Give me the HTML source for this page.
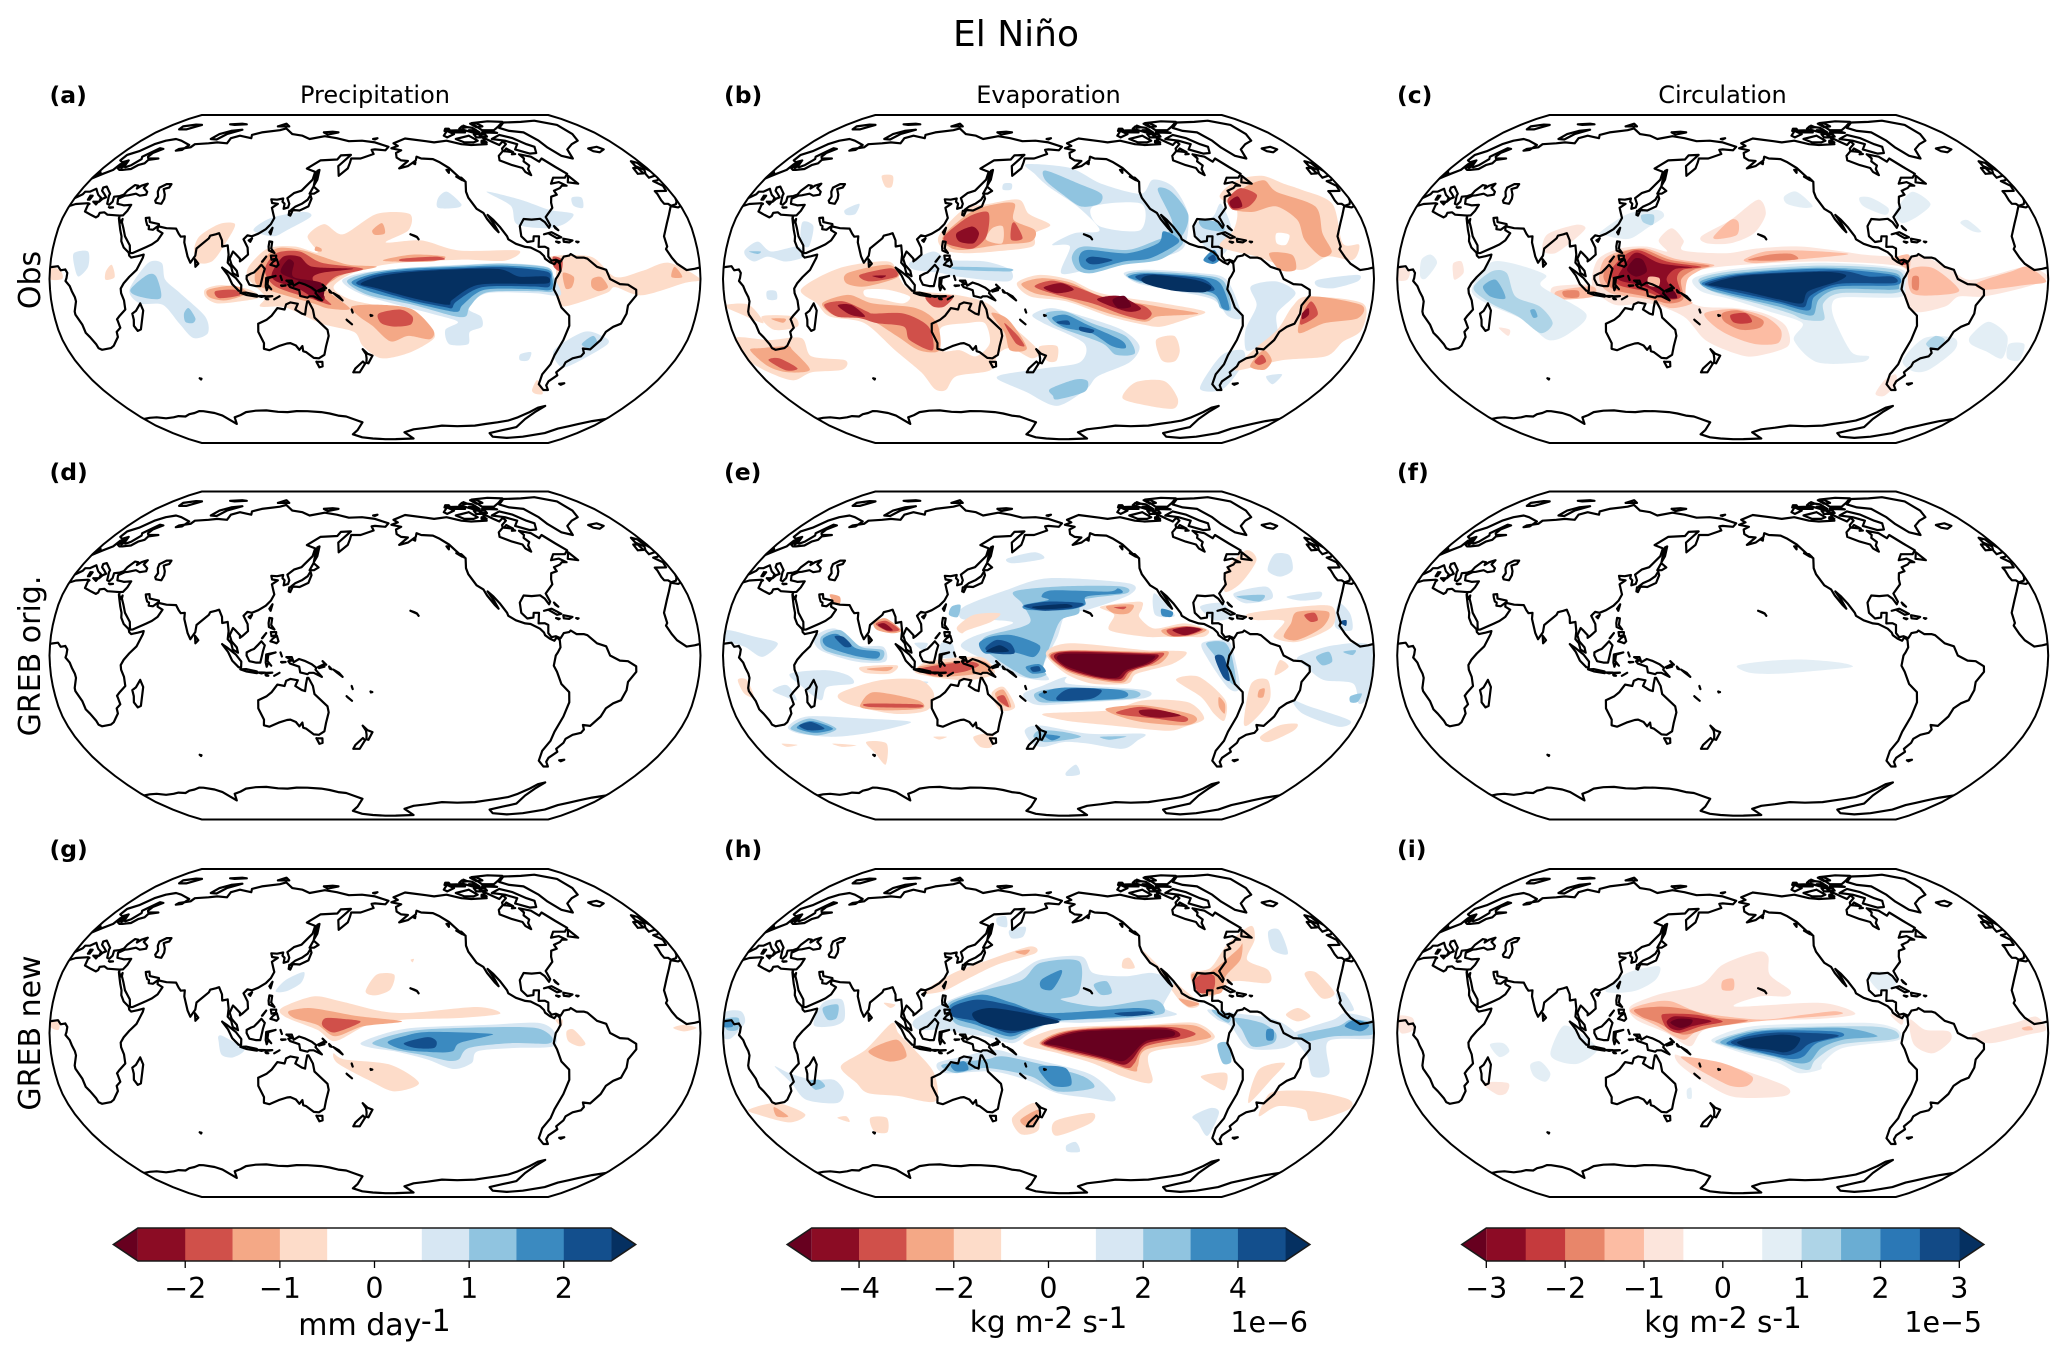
<!DOCTYPE html>
<html lang="en">
<head>
<meta charset="utf-8">
<title>El Niño</title>
<style>
html,body{margin:0;padding:0;background:#fff}
svg{display:block}
text{font-family:"DejaVu Sans","Liberation Sans",sans-serif;fill:#000}
</style>
</head>
<body>
<svg id="figure" xmlns="http://www.w3.org/2000/svg" width="2067" height="1359" viewBox="0 0 2067 1359">
<rect width="2067" height="1359" fill="#fff"/>
<defs id="clip-defs"></defs>
<g id="panels"></g>
<g id="colorbars"></g>
<text x="1016" y="46" font-size="36" text-anchor="middle">El Niño</text>
<text x="375" y="103" font-size="24" text-anchor="middle">Precipitation</text>
<text x="1048.5" y="103" font-size="24" text-anchor="middle">Evaporation</text>
<text x="1722.5" y="103" font-size="24" text-anchor="middle">Circulation</text>
<text x="49.5" y="103" font-size="23.5" font-weight="bold">(a)</text>
<text x="724" y="103" font-size="23.5" font-weight="bold">(b)</text>
<text x="1397" y="103" font-size="23.5" font-weight="bold">(c)</text>
<text x="49.5" y="480" font-size="23.5" font-weight="bold">(d)</text>
<text x="724" y="480" font-size="23.5" font-weight="bold">(e)</text>
<text x="1397" y="480" font-size="23.5" font-weight="bold">(f)</text>
<text x="49.5" y="857" font-size="23.5" font-weight="bold">(g)</text>
<text x="724" y="857" font-size="23.5" font-weight="bold">(h)</text>
<text x="1397" y="857" font-size="23.5" font-weight="bold">(i)</text>
<text transform="translate(40 280) rotate(-90)" font-size="30" text-anchor="middle">Obs</text>
<text transform="translate(40 656) rotate(-90)" font-size="30" text-anchor="middle">GREB orig.</text>
<text transform="translate(40 1033) rotate(-90)" font-size="30" text-anchor="middle">GREB new</text>
<text x="374.5" y="1335" font-size="30" text-anchor="middle">mm day<tspan dy="-4">-1</tspan></text>
<text x="1048.5" y="1332" font-size="29.5" text-anchor="middle">kg m<tspan dy="-4">-2</tspan><tspan dy="4"> s</tspan><tspan dy="-4">-1</tspan></text>
<text x="1308" y="1332" font-size="28.5" text-anchor="end">1e−6</text>
<text x="1723" y="1332" font-size="29.5" text-anchor="middle">kg m<tspan dy="-4">-2</tspan><tspan dy="4"> s</tspan><tspan dy="-4">-1</tspan></text>
<text x="1982" y="1332" font-size="28.5" text-anchor="end">1e−5</text>
</svg>
<script>
/* Robinson projection table */
const robinsonLen=[1,.9986,.9954,.99,.9822,.973,.96,.9427,.9216,.8962,.8679,.835,.7986,.7597,.7186,.6732,.6213,.5722,.5322];
const robinsonDepth=[0,.062,.124,.186,.248,.31,.372,.434,.4958,.5571,.6176,.6769,.7346,.7903,.8435,.8936,.9394,.9761,1];

/* Colour scales: value bounds and band colours */
const boundsPrecip=[-2.5,-2,-1.5,-1,-.5,0,.5,1,1.5,2,2.5];
const colorsPrecip=['#67001f','#8b0c24','#d0504a','#f4a886','#fddcc9','#ffffff','#ffffff','#d7e7f3','#90c4e0','#3b8ac0','#134f8d','#053061'];
const boundsEvap=[-5,-4,-3,-2,-1,0,1,2,3,4,5];
const colorsEvap=colorsPrecip;
const boundsCirc=[-3,-2.5,-2,-1.5,-1,-.5,0,.5,1,1.5,2,2.5,3];
const colorsCirc=['#67001f','#8c0b25','#c53a3d','#e8866a','#fcbca3','#fce5dc','#ffffff','#ffffff','#e3eef5','#aed4e7','#6aadd3','#2b78b6','#124a86','#053061'];
const ticksPrecip=[-2,-1,0,1,2];
const ticksEvap=[-4,-2,0,2,4];
const ticksCirc=[-3,-2,-1,0,1,2,3];

/* Coastlines: closed loops as lon,lat */
const coastlines=[
[-5.9,35.8,-9.8,31.5,-13,27.5,-17,21,-16.5,16,-17.5,14.7,-15,10.5,-12.5,7.5,-7.5,4.4,-3,5,1,5.9,4.3,6.3,6,4.3,8.5,4.7,9.7,3,9.4,.5,8.8,-1,11,-3.5,12,-6,13.4,-9,13.7,-11,12,-16,12,-17.5,14.5,-22.5,15,-26.5,16.5,-28.6,18.2,-32,18.4,-34,20,-34.8,25.7,-34,28,-32.8,30,-31,32.5,-28.5,32.8,-26,35.5,-24,35,-20.5,34.8,-19.8,36.8,-18,40.5,-15,40.5,-10.5,39.2,-7,39.2,-4.7,41,-2,44,1,48,4.5,51,10.5,51.2,12,48,11.2,44.5,10.5,43.2,11.5,42.7,13,39.5,15.5,37.5,18.6,37,21,35.5,24,33.5,28,32.5,29.9,32.3,31.2,30,31.3,25,31.6,22.5,32.8,20,32.5,20,31,19,30.3,15.5,31.5,11,33.2,10.5,36.5,11,37,10,37.3,3,36.9,-2,35.2],
[34.2,31.3,35.5,33.5,36,36.5,32,36.2,30.5,36.5,27.5,37,26.2,39.5,29,41,31,41.2,35,42,38,41,41.5,41.5,41,43,37.5,44.8,38,47,35,46,33.5,44.5,33,46,30.7,46.3,28.5,43.5,28,41.5,26.2,40.8,23,40.5,24,38,23,36.5,21.5,37,19.5,41,19.3,42,14,45.5,12.3,45,13,43.5,16,41.8,18.5,40.2,17,39.5,16,38,15.6,40,12.5,41.5,10.5,43,8.7,44.4,6,43,3.2,43,3,41.7,0,39.8,-.5,38.3,-2,36.8,-5.5,36,-6.5,37,-8.8,37,-9.3,38.7,-8.8,42,-9,43.3,-2,43.4,-1.2,46,-4.7,48.3,-1.5,48.7,1.5,50.5,4,52,8,54,8.3,57,10.7,57.5,10,54.8,12,54,14,54,19,54.5,21,56.5,24,57.5,24,59.3,30,60,23,60,21.3,61,21.5,63,25.5,65.3,22.3,65.7,17.2,61,18.8,59.7,16.5,56.5,14.2,55.4,12.8,55.7,11,59,8,58,5.2,59,5,62,10,64,14,68,19,70,25,71,31,70,41,67.5,40,64.7,36,64.3,37,65.2,44,66.2,44.5,68,54,68.5,60,69,68,68.5,67,71.5,72,73,78,72.2,83,71.5,81,73.5,87,75,100,76.5,104,77.7,113,74,122,73,129,71,140,72.7,150,71.5,160,69.7,170,70,180,69,190,66.5,187.5,64.5,180,65,177.5,64.7,179,62.5,170,60,163.5,60,163,57.7,162,54.8,156.7,51,155.5,56,158,58,163,62,156,61.7,154,59.5,142.5,59,135,54.7,141,53,140.5,49,135,43.5,130.8,42.3,127.5,39.8,129.3,37,129,35.2,126.5,34.5,126.5,37,125,38,125,39.6,121.5,39,118,39.2,119,37.4,122.5,37,119.5,35,121,32,122,30,120.5,27,118,24.5,114,22.3,110.5,21,108,21.5,106,19.5,108.8,15.5,109.3,12,106.5,9.7,105,8.7,105,10,102.5,12.2,100.8,13.5,99.3,10,100.5,7,103.5,4,104.2,1.4,101.3,2.9,100.3,6,98.3,8,98.5,12,97.5,16.5,94.5,16,94,19,91.8,22.5,90,22,87,21.3,86.5,20,80.3,15,80,11.5,77.5,8,75.8,11,73,18,72.7,21,70.5,20.8,69,22.3,67,24.8,61.5,25,57,25.8,56.5,27,51,28,50,30.2,48,30,48.7,28.5,50,26.5,51.2,26,51.5,24.5,54,24.2,56.3,26,56.7,24,59.8,22.5,57.8,19,55,17,52,15.7,45,12.8,43.5,12.7,42.7,16.5,39,21,37,25,35,28,34.8,29.5,34.3,27.8,32.7,29.9,32.3,31.2],
[47,45,50,46.8,53,46.8,53,45,51,44.5,50.2,44.2,52.8,41.5,53.8,39.5,53.5,37,50,37.5,49,38.5,49.5,40.5,47.5,43],
[-156.5,71.3,-166,68.5,-163,67,-168,65.6,-161,64.5,-165,63,-165,60.5,-162,59,-157.5,58.7,-164,54.8,-158,56,-152,59,-151,61,-148,60,-140,59.7,-136,58,-131,55,-128,52,-125,49,-123,48,-124.5,43,-124,40,-120.5,34.5,-117,32.5,-115.5,29.5,-112,25,-110,23,-112,27,-114.8,31.5,-112,29,-109,25.7,-105.5,21,-105,19.5,-101,17.3,-96,15.8,-93,15.5,-88,13.2,-86,11.3,-85.5,10,-83,8.3,-80.5,7.3,-79,9,-77.5,7.5,-77.3,4,-78.8,1.5,-80,0,-81,-5,-79,-8,-76,-14,-71,-18,-70,-23,-71.5,-30,-73.5,-37.5,-73.5,-42,-75.5,-47,-74,-52,-68.5,-55,-65.5,-55,-68.7,-52.6,-69,-50.5,-65.7,-47.5,-67.5,-46,-65,-43,-65,-41,-62,-39,-57.5,-38,-56.7,-36.4,-58.4,-34.2,-54,-34.6,-50,-30,-48.5,-26,-45,-23.5,-41,-22,-39,-17,-39,-13,-35,-8,-35.3,-5.3,-40,-2.8,-44.5,-2.5,-50,0,-52,4.5,-57,6,-62,10,-64,10.5,-68,10.5,-71,12.3,-72,11.5,-75,11,-77,8.5,-79.5,9.5,-82,9,-83.6,11,-83.2,15,-85,15.9,-88.5,15.8,-87.5,21,-90.5,21,-91,18.7,-94.5,18.2,-97.5,21,-97.5,26,-94.5,29.5,-90,29.2,-85,29.6,-82.7,28,-81,25.2,-80,26.5,-81.5,30.5,-76,35,-75.5,37.5,-74,40.5,-70,41.5,-70.5,43.5,-66,44.8,-64,46,-61,46,-64.5,47.8,-70,47,-66.5,50,-59,50,-55.7,52,-60,55.5,-64.7,60,-68,58.3,-71,61,-78,62.3,-76.8,60,-78.5,58.5,-76.7,56.3,-79,54.5,-79.5,51.3,-82,53,-82.3,55,-88,56.5,-94.5,59,-93,61.5,-88,64,-87,65.5,-81.5,68,-82,69.7,-87,67.5,-90,69,-95,72,-96,68,-108,67.5,-115,68,-125,70,-135,69,-141,69.7],
[-73,78,-62,82,-45,82.5,-30,83.5,-18,80,-20,74,-24,70,-32,68,-40,65,-43,60,-49,61.5,-53,66,-54,70,-58,75,-68,76],
[-80,73.5,-72,71.5,-66,68,-62,66.5,-65,63,-70,62.7,-78,65,-73,68,-80,70,-89,71],
[-105,73,-117,71,-112,69,-105,69,-101,70],
[-90,76.5,-80,76.5,-72,79,-62,82.5,-75,83,-92,81.5],
[-123,72,-116,74,-120,76,-125,73],
[-92,75,-80,74.7,-84,76],
[-116,75,-106,75,-108,76.5,-116,76.3],
[-100,75,-94,75,-96,78,-104,79,-108,77.5],
[-87,64,-81,63.5,-84,65.5],
[-92,78.5,-86,79,-88,81.5,-94,81],
[-104,78,-100,78.5,-102,79.5],
[-100,72,-96,72,-96,74,-100,74],
[-95,72.5,-91,72.5,-91,74,-95,74],
[-99,69,-95,69,-96,70,-98,70],
[-122,76,-117,76,-117,77.5,-120,77.5],
[-100,75.5,-97,75,-97,76.5,-101,76.5],
[-83,62.3,-80.5,62.5,-82,63],
[-128,50.5,-125,50,-123.5,48.5,-125,48.8],
[-133,54,-131.5,54,-132,52.5],
[-154,57.5,-152.5,58,-153,57],
[50,80.5,60,81,65,80.5,55,80],
[11,55.5,12.5,56,12,55],
[-78,26,-77,25,-76,24,-77.5,25],
[-67,18.4,-65.7,18.3,-66.3,18],
[-78.3,18.4,-76.3,18.1,-77,17.8],
[115,-8.3,119,-8.4,117,-8.8],
[119.2,-9.5,120.7,-10,119.5,-9.9],
[154.6,-5.4,156,-6.8,155,-6.5],
[178.5,71,182,71.5,180,70.8],
[-59,47.7,-53,47,-56,51],
[-84.5,22,-80,23,-75,20.5,-77.5,20,-82,22.5],
[-74,19.8,-69,19,-71,18,-74,18.3],
[-5.5,50,1,51.3,1.5,52.7,0,53.5,-2,56,-2,57.7,-5,58.6,-6,56,-3,54,-5,52],
[-10,52,-6,52.2,-6,55,-9,55],
[-24,65.5,-16,66.5,-13.5,65,-19,63.4,-22.7,64],
[12,79,20,80.3,26,80,20,77,14,77],
[52,71,57,70.7,60,74,68,76.8,60,76,54,74],
[95,79,105,79,100,81],
[138,75,145,75.5,150,75,142,73.7],
[142,46,143.5,49,143.5,54,142.3,53.5,142,49],
[140.3,42,142,45.5,145.5,43.4,143,42],
[131,34,136,33.7,140.8,35.7,142,39.5,141,41.3,139.8,39,136.7,37,133,35.5],
[130,33.5,131.8,33.5,131,31.2,130,31.5],
[120.2,23,121.7,25.2,121,22],
[109,19,110.8,20,110,18.3],
[120.5,16,120.7,18.5,122.3,18.3,122,15,124,12.8,120.8,14],
[122,7,123.5,8.5,125.5,9.7,126.5,7,125.5,6,124,6.5],
[122,11.5,125,11.5,125,10,122.5,9.5],
[117.3,8.5,119.5,11,117.5,8.5],
[109,1.5,111.5,2.7,113,3.2,115.5,5.5,117,7,119,5,118,2,117.5,0,116.5,-3.5,114,-3.5,110.5,-2.8,109,0],
[95.3,5.6,98,4,103,.5,106,-3,105.8,-5.8,104.5,-5.8,101,-2.5,98.7,1.7],
[105.3,-6.8,108.5,-6.7,114.5,-7.8,114.5,-8.7,108.5,-7.8],
[120,-5.5,119.5,-3.5,119.8,.5,125,1.5,121,.4,120.5,-2.7,122.5,-5,121,-3.5],
[124,-10,127,-8.5,125,-9.5],
[119,-8.5,123,-8.4,120,-8.8],
[127.7,1.5,128.5,-.5,127.9,1],
[128,-3.2,130.5,-3.2,128.5,-3.5],
[131,-.8,134,-.8,135,-3.3,138,-1.7,141,-2.6,145,-4.3,147.5,-6,147,-7,150.5,-10.5,146,-8.5,143.5,-8.5,142.5,-9.2,138.5,-8.3,138,-5.5,133,-4,132,-2.8,134,-2.5],
[148.5,-5.7,152,-4.2,152,-5.5,149,-6.2],
[151,-2.8,153,-4.5,151.5,-3.2],
[157,-7,160,-8.5,162,-10.5,159,-8.5],
[167,-15,167.5,-16.5,167.1,-15.5],
[164,-20,167,-22.3,164.5,-20.5],
[177.5,-17.7,178.5,-18,177.7,-18.2],
[-160,22,-158,21.4,-156.5,20.8,-155.5,19.5,-156.2,20.5,-158,21.2],
[69,-49,70,-49.2,69.5,-49.6],
[166.5,-46,170.5,-46,174,-41.7,172.7,-40.6,168,-44],
[172.8,-34.5,175.5,-36.7,178.5,-37.7,176,-41.5,174.8,-41.2,175,-39,174.7,-37],
[144.7,-40.7,148.3,-40.8,148,-43,146,-43.5],
[49.3,-12,50.4,-15.5,47,-24.8,45,-25.5,43.5,-23,44.2,-20,44,-17,46.3,-15.7],
[80,9.7,82,7.5,80.5,6],
[-61,-51.8,-58,-51.5,-59.5,-52.3],
[12.5,38,15.5,38,15,36.7],
[8.3,41,9.7,41,9.5,39,8.5,39],
[23.7,35.3,26.2,35.2,24.5,35],
[114,-22,113.5,-26,115.7,-31.5,115,-34.3,118,-35,124,-33,129,-31.7,131,-31.5,134,-32.7,135.7,-34.8,137.7,-33,137.8,-35.5,139.5,-36,143.5,-38.8,146.5,-39,150,-37.3,151.5,-33,153.5,-28,153,-25,149.5,-22,146,-19,145.3,-15,143,-11,142.3,-11,141.5,-14,140.8,-17.5,139,-17,135.5,-15,137,-12.2,133,-11.5,130.5,-12.5,129.5,-15,125.5,-14.3,122,-18,119,-20]
];
const antarcticaCoast=[0,-71,6,-70.3,12,-70,18,-70.6,25,-70,30,-69.3,35,-69.5,40,-68.2,45,-67.5,50,-66.4,53,-66.5,60,-67.5,64,-69,68,-74,72,-70,78,-68.7,84,-67,92,-66.2,100,-66,108,-66.8,115,-67,122,-66.4,130,-66.5,140,-67,146,-67.8,152,-69,158,-69.5,163,-71,170,-73,165,-78,160,-81,168,-83.5,178,-84.5,190,-85.2,200,-85,217,-84.5,206,-79.5,213,-77.5,224,-76.4,235,-75,248,-75.4,262,-75,270,-74,278,-73,285,-72,290,-70,295,-67,298,-64.5,302,-63.5,299,-67,297,-71,298,-76,290,-78,282,-80,290,-83,305,-84,318,-83,331,-80,335,-77,340,-75.5,345,-74,352,-72.3,360,-71];

/* Filled contours: [band value, lon,lat, lon,lat, ...], painted in order */
const contoursA=[
[-.75,110,6,120,15,135,16,148,13,142,21,151,27,162,22,181,32,200,32,199,24,186,18,206,19,227,14,260,14,252,9,227,9.5,189,7.5,168,3,157,-4,166,-10,184,-13.5,201,-17,211,-23,214,-29,201,-36,184,-39,173,-33,168,-26,150,-22,130,-14,116,-13.5,119,-8.6,110,0],
[-.75,86,-5,95,-3,110,-5,116,-9,105,-11,92,-12,86,-9],
[-.75,81,21,91,27,100,27,97,19,90,9,82,8,79,14],
[-.75,277,11,300,11,313,1,328,4,343,8,360,0,351,-2,328,-8,313,-4,308,-7,285,-13.5,281,-7,280,6],
[-.75,283,-50,287,-52,293,-57,288,-57,284,-55],
[-.75,31,3.7,34,7,36,1,31,-.4],
[-.75,0,6,6,4,7,0,0,0],
[-1.25,344,1,346,6,350,1],
[-1.25,284,3,290,1,289,-4,285.5,-4.5],
[-1.25,300,0,305,1,309,-4,304,-6,300,-4],
[-1.75,279,11,284,9.5,283,3.7,279,6],
[-1.25,115,6,125,15,140,14,150.5,11,165.5,7,181,6,165.5,3,158,0,153,-5,166,-14.5,154,-14.5,145.5,-12,123,-6,114,-2],
[-1.75,119,4.5,125,12.7,138,13.5,150.5,8,173.4,5,158,1,150.5,-7,155.6,-12.7,145.5,-10,125,-3.7],
[-2.25,123,3,129,11,138,11,145.5,6,168,5,150.5,3,145.5,0,152,-8.6,149,-11,138,-5,125,-1],
[-2.75,128,3,131.5,9.5,135,8,135,1,150.5,-2,150.5,-9.4,140.4,-2],
[-1.25,185,9.5,201,12,219,11,211.5,8.6,189,8.6],
[-1.75,195,10,214,11,218,9.5,196,8.6],
[-1.25,178.5,24,184,27.5,185.6,22.5,180,21.7],
[-1.25,147,16,150,15,150,13.5,146.5,14],
[-1.25,87.6,-5.3,102,-3.3,109,-7,97,-10.5,88,-9],
[-1.75,91.5,-6,102,-5.3,105,-8,93.5,-9.4],
[-1.25,167,-13.5,183.5,-12.7,201,-15,213,-25,211.5,-29.6,199,-28,189,-30.7,178.5,-23,171,-18.4],
[-1.75,182,-17,194,-15,201,-18.4,200,-22.5,191,-23.4,183.5,-21.7],
[.75,162,-.4,173,3,196,5.3,227,7,252,7.8,275,6.1,279,1,283,-8,268.6,-7,242,-7,232,-14.3,239.4,-18.4,240.7,-23.4,234,-26,234,-32,223,-32,220,-25,226.7,-21,211.5,-17,196,-13.5,176,-8.6,166,-4.5],
[1.25,164.5,-1.2,176,3,196,5.3,226.7,6.6,252,7.5,275,5.8,278.7,1.2,278.7,-6,268.6,-6,242,-6.6,233,-13.5,231,-18.4,223,-18,201,-12.7,176,-7.8],
[1.75,167,-1.7,178.5,2.5,196,4.8,226.7,6,252,6.6,275,4.8,278,.4,277.5,-5.3,267,-5,240.7,-5.3,229,-12.7,226.7,-16,220,-15.5,201,-11.6,178.5,-6.6],
[2.25,169.6,-2,180,2,197.5,4,226.7,5.3,252,5.8,275,3.7,277,-.4,276,-4,267,-3.7,239.4,-4,225.4,-11,223,-14.3,219,-13.8,201,-10.6,180,-5.3],
[2.75,172,-2.4,182,1.2,198.8,3.4,226.7,4.8,249.5,4.8,259.7,1.2,275,1.2,276,-2,264.8,-2.4,237,-2.9,223,-10.2,220.4,-12.7,201,-9.4,181,-4.5],
[.75,44,-5.3,54,7.8,61.7,7.8,64,-.4,72,-7,84.6,-18.4,84.6,-26.6,75.7,-29,69.3,-21.7,61.7,-12.7,49,-12],
[1.25,44.5,-5.3,54,2,59,1.2,61,-9.4,49,-8.6],
[1.25,73,-17,76,-14.3,79,-19.3,77,-21.7,73,-21],
[.75,12.2,12.7,20,13.5,21,6,16,1.2,13.5,6],
[.75,111,24,120,30,138,33,143,30.7,130,24,122.6,21],
[.75,218,40,224,43,231,37,228,35,217,35],
[.75,248,43,267,39,282,34,295,32,288,27,277,25,261,27,260,36],
[.75,298,40,304,40,302,35,297,36],
[.75,285,-35,299,-26,310,-28,315,-32,300,-42,293,-43],
[1.25,300,-32,305,-28,309,-32,305,-34],
[.75,266,-37,272,-36,272,-40,267,-40]
];
const contoursB=[
[-1.5,43,-5,64,5.3,91,8.6,97,1.2,104,-5.3,130,-8,146,-12,158,-22,174,-35,170,-39,158,-34,150,-37,144,-45,122,-48,112,-55,105,-54.5,101,-46,90,-35,76,-21.7,57,-18.4,51,-12],
[0,78.5,-5.3,91,-5.3,103,-8.6,99,-12,87,-10,78.5,-8.6],
[0,119,-24,134,-21.7,144,-21.7,146,-31.5,137,-38,128,-35,117,-35],
[-2.5,54,-12,69,-7.8,82,-12,106,-14.3,117,-21.7,116,-35,104,-35,93,-28,78,-19.3,61,-18.4],
[-2.5,69,3,91,7,97,1.2,78.5,-3.7,68,-2],
[-3.5,55,-12.7,66,-11,78.5,-16,82,-17,99,-17,112,-23.4,112,-35,100,-30,98,-23.4,83,-21.7,74,-19.3,61,-18.4],
[-4.5,62.5,-13,70,-12.7,77,-18.4,69,-17.6],
[-3.5,75.6,2,93,5.3,96,1.2,81,-1.2],
[-4.5,82.5,1.5,90,1.7,87.5,.4],
[-3.5,112,-8.6,127,-8.3,122,-13.5,115.6,-13.5],
[-2.5,148,-16.8,157.5,-20,167.4,-34,157.5,-35,155,-26.6],
[-3.5,155,-21.7,162.5,-28,166,-33,161,-31.5],
[-1.5,118,21,130,34,145,37,162.5,39,168.6,32,181,26.6,172.3,22.5,171,16,150,13.5,133,12.7,122,14.3],
[-2.5,120.5,21,135,33,150,37,160,37,160,29,172.3,24,170,18.4,152.6,16.8,133,14.3,125,15.5],
[-1.5,148,25,154,25.8,154,17.6,145,19.3],
[-3.5,121.7,21.7,134,30.7,145,32.7,145,21,137.8,15,128,16,122,18],
[-4.5,128,22.5,136.5,25.8,140.7,22.5,138,17.6,130,18.4],
[-3.5,159,26.6,161,27.5,165.4,20,159,19.3],
[-1.5,162.5,-2,175,2,192,-.4,209,-7,244,-12,267.4,-16,259,-19.3,244,-23.4,234,-22.5,214,-18.4,190,-11,170,-8.6],
[-2.5,165,-2.4,176,.4,192,-1.7,209,-8.3,241,-13.5,264,-17,241.5,-18.4,234,-21,214,-17,190,-10,172.3,-7],
[-3.5,172.3,-3.7,182,-.8,194.6,-3.7,212,-9.4,231.6,-12.7,237.8,-16.8,234,-20,221.7,-17.6,204.4,-12,184.7,-7.8],
[-4.5,177.3,-4.2,187,-2,194,-5.3,184.7,-7],
[-4.5,207,-10.2,219,-8.3,231.6,-14.3,224,-16],
[-5.5,215.6,-10.2,222,-8.3,226,-13.5,219,-14.3],
[1.5,165,57,194.4,55,213,47,236,42,246,49,257,45.5,261,32,256,16,244,11,224,7.8,202,4.5,187,2.9,192,16,182,16.8,194.6,22.5,209,24,197,35.7,180,45.5,171,52],
[0,206,35.6,235,37,232,24,209,26],
[2.5,178,53.7,199,47,212,42,210,37,199,35.7,188,42,178,48.8],
[2.5,247,44,255,43,261,31.6,255,21,244,19.3,251,27.5],
[2.5,193,11,199.5,16,224,14.3,241.5,19.3,252.6,22.5,255,17,241.5,9.4,221.7,7,204.4,2.9,196,4.4],
[3.5,197,11,202,14.3,224,12.7,241.5,17.6,245,23.4,251.4,21,252.6,17.6,236.5,10.2,221.7,8.6,204.4,4.5,198.3,6],
[4.5,200.7,9.4,204.4,11,215.6,9.4,208,7.4,203,7.4],
[1.5,221.7,2.9,234,4.5,263.7,2.9,278.5,-.4,288.4,-18.4,281,-18.4,271,-10,246.4,-5.3,229,-2],
[2.5,223,2,234,3.7,263.7,2,277,-1.2,282,-15,276,-14.3,271,-8.6,246.4,-3.7,230.4,-1.7],
[3.5,224,1.2,234,2.9,263.7,1.2,275,-2,281,-14.3,277,-14.3,271,-7,246.4,-2.9,231.6,-1.2],
[4.5,228,1.2,236.5,2.5,263.7,.4,271,-3.7,270,-6,249,-5.5,234,-2],
[5.5,231.6,.4,239,2,261,-.4,270,-3.7,266,-6.5,249,-5.7,234,-2.4],
[1.5,171,-17.6,182,-14.3,199.5,-18.4,221.7,-25,233,-33,229,-41,211,-48,205,-54.5,186,-63.5,165,-56,148,-49.6,152,-47,177,-44,199,-41,200.5,-31.5,177,-21.7],
[2.5,178.5,-16.8,189.6,-16,204.4,-21.7,224,-28,231,-36.5,220,-37.3,211,-31.5,189.6,-25,182,-21.7],
[3.5,182,-19.3,189.6,-17.6,202,-22.5,221.7,-30,225,-34,217,-33,204.4,-26.6,189.6,-24],
[4.5,184.7,-21,190.8,-20.4,192,-22.5,186,-22],
[4.5,198,-23.4,205.7,-25,204.4,-26.6,198,-25.4],
[2.5,181,-54.5,197,-49.6,205,-50.4,204,-56,186,-60,183,-58],
[1.5,103,8,115.6,13.5,125.4,9.4,145,8.6,158.8,4.5,157.5,-1.2,130,1.2,120,3,105.7,4.5],
[2.5,128,6,157.5,5.3,157.5,3.7,130,4.5],
[1.5,264,27.5,275,30.7,282,37,284,25.8,281,16,274,11,264.5,19.3,263,22.5],
[2.5,267,29,279,27.5,279,23.4,268,25],
[3.5,266,9.4,272.3,14.3,274.8,9.4,271,7.4],
[4.5,268.6,10.2,272,12,273,9.5,271,8.5],
[1.5,292,-3.7,306,-1.2,317,-7,308,-17,311,-28,303,-33,296,-35,292,-25,296,-13],
[1.5,280,-43,284,-36.5,294,-35,298,-41.5,295,-54.5,280,-54.5],
[1.5,329,-.4,351,2,351,-1.2,338,-4.5,329,-3.7],
[1.5,317,-48,326,-47,325,-52],
[1.5,10.6,14.3,16.8,18.4,25.4,13.5,40,16,44,11,34,8.6,24,11,16.8,8.6,11.8,11],
[2.5,13,13.5,19.5,13.5,18,12.3],
[1.5,39,28,46,26,46,16,41,18],
[1.5,61,34,68,37,68,32,63,31.5],
[1.5,152,47,157,47,157,44,152,44],
[1.5,24,-6,29,-6,29,-10,24,-10],
[-1.5,0,-12.7,13,-12.7,19,-21.7,7,-17,0,-14],
[-1.5,19,-18.4,36.5,-18.4,37.8,-23.4,24,-25],
[-2.5,24,-19.5,32,-19.5,30,-21.5],
[-1.5,0,-29,19,-30,38,-29,39,-38,58,-40,53,-44.7,33,-46,18,-50,8,-47,0,-40],
[-2.5,5,-35,12,-34,28,-33,30,-35,33,-44.7,18,-46,9,-43],
[-3.5,12,-40,19,-39,26,-44,18,-45],
[-1.5,73,51,80,51,83,45.5,79,45.5],
[-1.5,283,40.6,299,48.7,317,51,327,47,335,44,348,37,345,17.6,354,16.8,349,9.4,335,11,320.5,4.5,305.7,7.8,296,11,276,16,285,24,290,34],
[0,309,22.5,316,21.7,313,16.8,308,17.6],
[-2.5,288,37,300,44.7,316,48.7,319,43,337,35.7,335,22.5,338,13.5,331.6,11,324,19.3,323,29,314,35.7,299,33,288,34],
[-2.5,303,12.7,315.6,11.9,316.8,4.5,308,4.5],
[-3.5,287,39,298,44.7,306,41.4,298,35.7,288,34],
[-4.5,287.6,38,294,40.6,294,35.7,288,34.8],
[-1.5,316,-13.5,324,-8.6,355,-12,358,-25,350,-31,345,-38,320,-40,295,-45,300,-35,310,-25],
[-2.5,322,-17,325,-8.6,354,-12.7,354,-19.3,336,-21.7,323,-26.6],
[-3.5,322,-18.4,326,-11,331,-17.6,323,-22.5],
[-4.5,322,-17,325,-14.3,326,-17.6,323,-19.8],
[-2.5,303,-43,306,-35,314,-40,313,-44.7],
[-3.5,304,-40.6,306.5,-37.3,311,-40.6,308,-42.3],
[-1.5,231,-59.4,236,-51,254,-50.4,269,-59.4,271,-65,252,-63.5],
[-1.5,242,-30,252,-28,257,-35,256,-40.5,248,-40],
[-1.5,175,-33,185,-33,185,-40,180,-40.6,175,-36.5]
];
const contoursC=[
[-.75,110.5,9.4,122.5,15,137,16,149,13.5,144,19,151,25,158,19,158,14,182,12.7,199,15,223,16,247,13.5,258.5,12,275,11,292,11,306,4.5,316,-.4,330,2,349,6,360,1,349,-3.7,325,-8.6,311,-8.6,304,-13.5,287,-16,280,-3.7,279,6,235,8.6,191.7,7,168,4.5,158,-.4,158,-8.6,168,-13.5,187,-14.3,203.6,-17,215.6,-23,218,-33,199,-38,187,-36.5,170,-30,158,-18.4,139,-12,120,-12.7,108,-3.7],
[-.75,86.7,-3.7,108,-3,109,-8.6,91.5,-10,85.5,-8.6],
[-.75,81,22,96,26.6,102,25,96,19,86.7,12.7,79.5,14],
[-.75,168,21,184.5,29,201,39,205,32,197.7,22.5,184.5,17.6,171,17.6],
[-1.25,175,21,184.5,29,189,28,188,21.7,177.4,19.6],
[-.75,30.6,7.8,35,8.6,36.6,3,31.8,-.4,30.6,3.7],
[-.75,0,5.3,6.7,4.5,5.5,-.4,0,-.4],
[-.75,53,-24,59,-25,57,-28],
[-.75,283,-50,288,-47,292,-52,290,-58,283,-57],
[-1.25,114,9.4,122.5,13.5,137,15,153.5,10,175,7,168,4.5,160.7,0,159.5,-8.6,163,-12,151,-14.3,139,-10,118,-7,111.7,-.4],
[-1.75,117.7,9.4,125,13.5,135.6,14.7,151,9.4,172.6,6.6,164,4.5,157,-.4,158,-10,149,-12,137,-8.6,120,-5.3,114,1],
[-2.25,121,7.8,127,12.7,134,14,149,8.6,168,6,158,4.5,154.7,.4,157,-8.6,149,-10,137,-6,122.5,-3,117.7,3],
[-2.75,125,6,129.6,12,134,12.7,145,7.8,163,5.7,153.5,4.8,149,-.4,154.7,-8.6,149,-9.4,137,-3.7,122.5,-.4],
[-3.25,127,4.5,131,10,135.6,9.4,138,3.7,132,1.2],
[-3.25,145,-8,152,-5.3,154.7,-9.4,149,-9],
[-1.25,139,1,145,.4,144.4,-3.7,139,-3],
[-1.25,191.7,9.4,203.6,13.5,223,14,244,13,249,12,223,9.7,199,7.8],
[-1.75,194,9.4,206,12,218,12.4,221.5,9.7,206,9],
[-1.25,275,10,283.6,12,283.6,5.3,280,6],
[-2.25,278,9.4,283,7.8,280,7],
[-1.25,283.6,4.5,296.7,5.3,311,-5.3,301.5,-7.8,285,-7],
[-1.75,285,1,288.4,1,288.4,-5.3,285,-4.5],
[-1.25,320.6,-2,339.7,3.7,349,6,359,-1.2,346.8,-3,325,-5.3],
[-1.25,170,-16.8,187,-14.8,203.6,-18.4,213,-25,212,-31.5,199,-32,184.5,-28,175,-23],
[-1.75,179.8,-16.8,189,-15.5,202.4,-20,201,-24,190.5,-25,181,-21],
[-2.25,184.5,-17.6,193,-16.8,196.5,-21,190.5,-22,185.7,-21],
[-1.25,88,-6,108,-3.7,108,-8.6,90,-10],
[-1.75,91.5,-6,99.8,-5.7,99.8,-9,92.6,-9],
[.75,164,.4,187,5,235,8,278,5,281,-4,278,-9,247,-9,241,-12,243,-20,256,-36,267,-38,263,-41,237,-41,221,-30,225,-21.7,206,-16,184.5,-10,168,-6],
[1.25,167,0,187,4,235,6.6,276,4.5,280,-3.7,275,-7,245,-7,236,-12,237,-20,226,-20,218,-17,199,-12,174,-6],
[1.75,168,-1,188,3,235,5.6,275,3,277.6,-3.7,274,-5.3,244,-5,233.5,-10,231,-17.6,224,-17,211,-13.5,187,-8.6,172.6,-5.3],
[2.25,169,-1.7,189,2.5,235,5,274,2,276,-3,244,-3.7,231,-8.6,229,-15,223,-15,211,-12,189,-8,174,-4.5],
[2.75,170.7,-2,190.5,2,235,4,249,3.7,261,1.2,274,1.2,274.7,-2,244,-2.4,229,-8,226,-13.5,221.5,-13.5,211,-11,190.5,-7,175,-4],
[3.25,172.6,-2.4,191.7,1.6,235,3.5,248,2,244,-1,227.5,-6,224,-12,211,-10,191.7,-6,177.4,-3.7],
[.75,41,-5.3,50.8,7.8,62.8,7.8,82,2,79.8,-3.7,103.4,-17,92.6,-26.6,79.5,-30,67.6,-20,48.5,-12],
[1.25,42,-4.5,52,3.7,60.4,3,65,-8.6,78,-13.5,84,-21.7,76,-26.6,65,-18.4,51,-12],
[1.75,47.3,-3.7,54.5,-.4,59.4,-9.4,51,-8.6],
[1.75,72.4,-15.5,75,-15,76,-18.4,73.5,-19],
[.75,12.7,9.4,17.5,12,21.5,7.8,16,.4,12.7,1.2],
[.75,110.5,23,125,32,141.6,34,146,30.7,137,25,128.4,20,121,20,113,21.7],
[1.25,133,31.5,140,31.5,140,26.6,134.4,28],
[.75,217,40.6,225,43,233,36,227,35,218,37],
[.75,262,40,269,40,277,35,274,31.5,263,35.7],
[.75,279.4,31.5,285,37,296,43,303,37,293,31,283,27.5],
[.75,316,27.5,320.6,29,326.5,23.4,321.8,23.4],
[.75,288,-40,296,-29,313,-29,316,-35,307,-44.7,298,-45.5],
[1.25,298,-32,302,-28,308,-30,305,-35],
[.75,322,-28,330,-21,343,-28,347,-39,335,-35.6,324,-32],
[.75,346,-32,355,-32,358,-40,350,-39]
];
const contoursD=[];
const contoursE=[
[1.5,132,24,155,32,180,38,227,35.5,227,30,202,22.4,190,20.7,185,9.2,177,-5.6,180,-12,165,-10.5,145,-2.3,131.6,4.3,138,9.2,160,15.8,150,17.4,135,17.4,130,19],
[2.5,160,31.4,185,33.9,222,34,225,30.6,199.5,27.3,197,20.7,187,17.4,182,7.6,177,-5.6,178.5,-9.7,167.4,-10.5,145,2.6,145,9.2,165,14,170,17.4,165,25.6],
[3.5,176,29,182,32,214.3,31.4,220.5,33,222,30.6,202,29,200.7,24.8,190,22.4,168.6,22.4,166,24.8,180,27.3],
[3.5,141.5,6,147.7,9.2,160,10,175,5,172,-.7,163.7,1,157.5,1.8,145,1],
[4.5,166,24.4,180,26.5,199.5,25.7,194.6,23.2,177,22],
[4.5,145,3.5,151,7.6,158.8,6,161,1,150,1],
[5.5,171,24,189.6,25.3,193,23.7,177,22.7],
[5.5,146,2.5,153,5,158,2,147,1.5],
[3.5,167.4,-5.6,175,-4.3,178.5,-8,171,-8.9],
[4.5,170,-6,174.5,-5.3,175.5,-7.5,171.5,-8],
[1.5,50,9.2,61,13.3,73.6,5,88.4,4.3,89.6,-3,73.6,-3,53.8,2.6],
[2.5,53.8,9.2,64,12.5,76,4.3,88.4,2.6,87,-2.3,73.6,-1.5,56.3,2.6],
[3.5,55,8.4,62.7,10.5,73.6,3.5,86,1.8,84.7,-1.5,72.3,0,57.5,4.3],
[4.5,61.2,9.2,66,9.2,71,4.8,67,4.3],
[1.5,1,12.5,17,9.2,30,6,21.7,-.7,11.8,4.3,0,7.6],
[1.5,36.5,-9,56.3,-7.2,68.6,-9.7,71,-13.8,56.3,-15.5,51.4,-22,42,-15],
[1.5,25.4,-17,34,-14.6,37.8,-22,30,-19.6],
[1.5,102,-13,113,-13,105.7,-16.3],
[1.5,27,-35.2,41,-30,72,-31,100,-32.7,76,-37.7,51,-40,32,-38.5],
[2.5,28,-36,42,-31,55,-36,41,-39.3],
[3.5,32,-35.5,42,-32.2,53,-36,41,-38],
[4.5,34,-34.4,42,-32.7,48,-36,38,-36.8],
[1.5,265,6,278.5,7.6,282,2.6,287,-15.5,281,-16.3,268.6,-2.3],
[2.5,267.4,6,277,6.7,281,1,284.7,-13.8,280,-12,272.3,-.7],
[4.5,272,-.7,277,-.7,281,-12,277,-10.5],
[1.5,166,-18.7,177.3,-14.6,189.6,-10.5,192,-14,234,-17,234,-21,202,-23,177,-24.5,169,-22.8],
[2.5,172.3,-18.7,185,-16.3,226.7,-17,228,-21,187,-23,175,-22.8],
[3.5,175,-18.7,188.4,-15.8,220.5,-17,221.7,-21,184.7,-22.4,177,-21],
[4.5,184.7,-20.4,192,-16.3,209.4,-16.8,204.4,-21.2,187,-22.3],
[1.5,166,-36.8,175,-34.4,204.4,-38.5,236.5,-38.5,234,-41.8,226,-46,204.4,-43.4,189.6,-42.6,177,-45,170,-43.4],
[2.5,175,-36.8,189.6,-37.7,199.5,-40,187,-42,177,-42.6,171,-40],
[3.5,177,-38.8,187,-39.8,182,-41.8],
[2.5,211,-40,226.7,-39.8,217,-41.5],
[1.5,192,-58,198,-54,201.5,-59,193,-60],
[1.5,318,-.7,338,5,359,4.3,360,-18.7,356,-23.7,350,-13.8,333,-12,323,-5.6],
[1.5,318,-22,328,-25,355,-32,350,-35,326,-28.6],
[2.5,328,-.7,335,1.8,337,-3,331.6,-4.8],
[2.5,343,1.8,350,2.6,348,.2],
[2.5,350,-20,356,-18.7,355,-22.8,351,-23],
[1.5,345,25.7,350,20.7,349,12.5,340,14],
[4.5,343,16.6,347,17.4,346,14.5],
[1.5,324,50,333,49.5,328,42,318,38.8,313,42],
[1.5,287,30.6,307,33.9,308,28,292,25.7],
[2.5,288,29,304,29.8,300,26.5],
[1.5,317,29,337,31.4,335,28,324,27],
[1.5,266,24,279,25.7,283,19,273,17.4],
[1.5,154,47.8,171,51,177,47.8,158,45.4],
[1.5,241,30.6,250,21.5,250,19,240,20],
[3.5,244,23,250,21.5,249,19,244,19.5],
[2.5,125,24,130,24.8,129,19,124,20],
[1.5,120.5,6,126.6,6,128,-.7,120.5,-.7],
[1.5,105.7,6,113,6,110.6,2.6],
[-1.5,178.5,1,192,6,234,2.6,256,1.8,249,-4,229,-9,224,-13.8,204.4,-13.8,189.6,-8.9],
[-2.5,180,.2,192,2.6,234,1.8,246.4,1.8,241.5,-4,228,-7.2,221.7,-13.3,207,-12,190.8,-8],
[-3.5,181,-.3,192,2.3,234,1.3,244,1,237.8,-4,225.4,-8,220.5,-12.5,207,-11.3,190.8,-7.2],
[-4.5,183,-.5,192,1.8,234,.8,241,0,236,-4,224.5,-7.5,219.5,-11.7,207,-10.7,191,-6.6],
[-5.5,184.7,-.7,192,1,234,.2,239,-.7,234,-4,223,-7.2,218,-10.9,207,-10.2,192,-6,187,-3.6],
[-1.5,209.4,24,232,26.5,233,23.2,231,19,239,13.3,256,15.8,269,12.5,266,9.2,254,9.2,244,9.2,234,9.2,214,12.5,217,20],
[-2.5,213,24.3,228,25,225,20.7,217,20.7],
[-3.5,217,23.7,224,24,222,22.7],
[-2.5,243,12.5,256,14.5,268,12.8,261,10,248,9.2],
[-3.5,246,12.6,257,14.3,266,12.8,258,10,249,9.6],
[-4.5,249,12.5,257.5,14,265,12.8,256,10],
[-1.5,293,20.7,323,24,341,24,338,14,318,6.7,305,9.2,312,17,295,17.5],
[-2.5,315.6,15.8,320.5,21.5,338,21.5,333,14,318,7.6,310.6,9.2],
[-3.5,324,19.9,330,21,331,17.4,326.6,16.6],
[-2.5,82.2,15.8,88.4,18.3,98,12.5,93.3,10.9,84.7,12.5],
[-3.5,83.5,15.4,89,17,97,12.7,91,11.8],
[-4.5,84.7,15,88.4,15.8,93.3,12.5,89.6,12.5],
[-2.5,54,30,60,29,61.3,25.7,58,25.7],
[-1.5,105.7,-8,113,-3,135,-.7,145,-1.5,150,-8.9,135,-12.2,115.6,-10.5],
[-2.5,108,-5.6,135,-2.3,145,-3,147.7,-8,118,-10.5],
[-3.5,109,-6.4,134.4,-3,141.5,-4.8,133,-8,115.6,-9.7],
[-1.5,76,-5.6,96,-4.8,92,-8.9,78.5,-8.6],
[-2.5,80,-6.4,93.3,-5.6,90.6,-7.6,81.4,-7.2],
[-1.5,62.5,-18.7,86,-12.2,108,-12,115.6,-18.7,110.6,-27,91,-28.6,66,-23.7],
[-2.5,73.6,-23.7,82.2,-18,106,-22,108,-26,88,-27,74.6,-26],
[-3.5,77,-23.7,106,-24,106,-25.6,78.5,-25.3],
[-1.5,129,14,138,20,152.6,20.7,148,16.6,135,12.5,131.6,10.9],
[-1.5,148,-18.7,155,-15.5,161,-25.3,152.6,-27],
[-2.5,150,-18.7,155,-17,158.8,-25.3,152.6,-23.7],
[-3.5,151,-20.5,155,-19.7,157.5,-25.3,152.6,-22.7],
[-1.5,251,-12,263.7,-10.5,280,-22,282,-32,275,-28.6,266,-20.4],
[-2.5,276,-20.4,280,-23.7,281,-28.6,277,-25.3],
[-1.5,177,-28.6,214.3,-27,234,-22,259,-23,270,-31,260,-35,250,-37,217,-34.4,190,-32],
[-2.5,213,-26,234,-24.5,261,-28.6,266,-32,259,-34.4,234,-32.7,219,-29.4],
[-3.5,219,-27.8,234,-25.3,258.6,-30,258.6,-32.7,241.5,-31,224,-29.4],
[-4.5,232,-27,241.5,-26.6,256,-29.4,244,-30.6,234,-29.4],
[-1.5,293,-14,302,-12,305,-22,299,-32,294,-33.6],
[-2.5,298,-17,301,-16.3,301,-20.4,298,-20.4],
[-1.5,307,-40,315,-34.4,325,-33.6,325,-37,314,-42.6],
[-1.5,308,-2.3,313,-5.6,305.7,-9.7],
[-1.5,289,43,308,52,310,47,293,35.5,282,31.4],
[-1.5,69,-42.6,81,-43.4,73,-54,71,-48.4],
[-1.5,48,-43.4,62,-44.2,53,-45],
[-1.5,17,-43.4,26,-44,19,-45],
[-1.5,111,-40,119,-40,114,-41.4],
[-1.5,135,-40,146,-38.5,145,-45,138,-45],
[-1.5,7,-12,12,-12,14,-20.4,9,-18.7]
];
const contoursF=[
[.75,188,-5,205,-2.7,225,-2,245,-3.5,252,-5.5,238,-7,210,-9,195,-8.5]
];
const contoursG=[
[-.75,128,12.3,145.5,18,160.7,15.6,183.5,10.7,201,10,237,12.8,249.5,9.5,226.7,7.4,196,6.6,176,4,158,-4,148,1.6,130,8],
[-1.25,132,10.7,143,12.3,155.6,10.7,171,8.2,195,5.7,173.4,3.3,158,-1.6,148,4,135,7.4],
[-1.75,150.6,5,153,7.4,163,6.9,172,5.4,158,.3,152,2.5],
[-.75,157,-10,163,-13,188.6,-15.6,205,-24.6,191,-28.7,176,-23,159,-14.8],
[-.75,174.7,20.5,181,28.7,191,28.7,188.6,21.3,180,18.5],
[-.75,201,36,203,36.4,202,34.7],
[-.75,0,5.7,5,6.6,5,1.6,1,2.5],
[-.75,345,2.5,351,4,358,2.5,351,.8],
[-.75,286,.8,290,1.6,296.5,-5,293,-6.5,287,-4],
[-.75,280,6.5,284,6.5,283,3],
[.75,172,-5,183.5,-.8,201,2.5,242,4,270,5,279,.8,279,-6.5,257,-7.4,237,-9,234,-14.8,224,-17.7,209,-13,191,-9,178.5,-7.4],
[1.25,178.5,-5,188.6,-1.3,206,1.6,242,2.8,268.6,2.5,277.5,-1.6,276,-5.2,254.6,-5,232,-7.4,226.7,-13,220.4,-13.6,206,-10.7,188.6,-7.9],
[1.75,187,-4.6,196,-1.6,209,.5,243,-.3,242,-1.6,226.7,-5,223,-9,214,-9.5,196,-8.2],
[2.25,196,-5,209,-2,214,-4,212.7,-7.4,202.6,-7.4],
[.75,93.4,-1.6,96,-1.6,107.4,-8,101,-12,94.7,-10.7,93.4,-4],
[.75,124,20.5,129,26,139,30,138,24.6,130,20.5]
];
const contoursH=[
[-1.5,109,19.7,125.4,29.5,145,36,168.6,42.6,172.3,39.3,150,33.6,133,26.2,120.5,20.5],
[-2.5,160,40,168.6,41,166,38.5],
[-1.5,63.7,-16.4,78.5,-8.2,93.3,4.9,97,0,105.7,-8.2,115.6,-19.7,114,-33.6,93.3,-31,76,-29.5,71,-24.6],
[-2.5,80,-9,96,-3.3,101,-11.5,91,-14],
[-1.5,88,14.8,94.5,14,92,12.3],
[-1.5,224,36,228,36.9,230,32,223,32],
[-1.5,262,29.5,274,32,290,44,312,53,308,46,297,36,307,31,305,24.6,285,25.4,272,18,263,21.3],
[-2.5,262,28.7,273,30,294,41,299,44,293,36,281.5,27.9,277,19.7,265,19.7],
[-3.5,262.5,25.4,269.6,29.5,275,27.9,273,21.3,265,19.7],
[-1.5,235,42.6,251,26,264,14.8,259,12.3,253,16.4,244,29.5],
[-2.5,253,17,264,14.5,258,13],
[-1.5,311.8,9,319,12.3,325.4,8.2,318,5.7],
[-1.5,327,28.7,334,29.8,341,19.7,333,17.2],
[-1.5,307,-41,306,-32.8,310,-28.7,332,-28.7,355,-32.8,358,-37.7,341,-43.4,332,-37.7,315,-36],
[-1.5,297,-34.4,298,-18,312,-14.8,306,-23],
[-1.5,266,-21.3,280,-19.7,281,-27.9,275,-26.2],
[-1.5,2,-37.7,21,-34.4,34,-40,21,-44,5,-40],
[-2.5,18,-36.4,23,-41,16,-41],
[-1.5,158,-41.8,172,-34.4,174,-47.5,162.5,-50],
[-2.5,163,-42.6,174,-37.7,172,-44,166,-46],
[-1.5,184,-43.4,206,-39.3,206,-44.3,185,-50.8],
[-1.5,72,-41.8,82,-41.8,78,-49,70,-48.4],
[-1.5,52,-41.8,58,-41,58,-43.8],
[1.5,105.7,6.5,125.4,16.4,145,23,162.5,29.5,175,36,199.5,37.7,205.7,29.5,224,27.9,240,29.5,251,24.6,244,13,251,9,229,6.5,199.5,5,182,5,170,0,160,-5,145,-1.6,135,-.8,122,1.6,108,1.6],
[2.5,124.4,14.8,145,21.3,165,26.2,175,34.4,198,35.2,197,19.7,187,16.4,209.4,13,239,16.4,244,9.8,224,7.4,197,6.6,182,5.2,167.4,0,158.8,-3.3,140,1.6,128,5],
[2.5,205.7,23.8,213,25.4,215.6,19.7,209.4,18.9],
[3.5,125.4,14,142.6,18.9,160,14.8,180,9.8,229,12.3,239,9.8,224,8.2,194.6,6.6,182,5.7,167.4,.8,157.5,-1.6,140,4,128,7.4],
[3.5,176,26.2,187,31,187,27.9,182,21.3,176,22],
[4.5,126.6,13,140,16.4,157.5,13.9,177,9,187,6.6,182,5.5,167.4,1.6,157.5,0,140,5.7,126.6,8.2],
[4.5,216.8,9.8,234,10.7,237.8,9.5,224,8.2],
[5.5,137.8,9.8,147.7,12.3,167.4,9.8,186,5.7,177,3.8,165,1.3,155,1.6,141.5,5],
[-1.5,166,-5,182,1.6,202,3.3,234,4,261,5,272,-1.6,263.7,-5.7,236.5,-9.8,239,-23,235,-24.6,221.7,-21.3,204.4,-14.8,184.7,-9.8],
[-2.5,175,-5,184.7,0,202,2.5,234,3.6,260,3.8,270,-1.6,261,-4,234,-8.2,230,-16.4,228,-18.9,209.4,-13.9,184.7,-8.5],
[-3.5,176,-5,186,-.3,202,2,246.4,3,261,0,256,-2.5,234,-6.6,228,-14.8,224,-17.2,209.4,-13,184.7,-7.9],
[-4.5,177.3,-5,187,-.8,202,1.6,244,2.5,252.6,-1.6,234,-5.2,226.7,-13,221.7,-15.6,209.4,-12.3,186,-7.4],
[-5.5,178.5,-5,188.4,-1.3,204.4,1.1,245,1.6,249,-1.6,234,-4,225.4,-11.5,220.5,-13.9,209.4,-11.5,187,-6.6],
[1.5,118,-14.8,133,-11.5,150,-8.2,165,-11.5,202,-19.7,216.8,-29.5,218,-33.6,204.4,-32,184.7,-29.5,167.4,-23,148,-18.9,121.7,-19.7],
[2.5,120.5,-15.6,145,-13,155,-11.5,177,-15.6,199.5,-21.3,205.7,-27,184.7,-28.7,170,-21.3,145,-17.2,128,-19.7],
[3.5,175,-16.4,189.6,-17.2,193,-25.4,183.5,-26.2,177,-21.3],
[3.5,125.4,-15.6,133,-13.9,135,-18,128,-18.9],
[1.5,50,4,54,14.8,64.4,16.4,66.8,6.6,60,3.3],
[2.5,54.3,12.3,62.5,13.9,62.5,7.4,57.5,6.6],
[1.5,26.7,-16.4,34,-19.7,46.4,-23,58.5,-23,62.5,-28.7,56.4,-34.4,39,-32.8,34,-24.6],
[2.5,44,-23.8,50,-23,52.6,-26.2,46.4,-27.9],
[1.5,0,9.8,9,10.7,11.8,5,4.5,-2.5,0,-1.6],
[2.5,0,6.6,8,7.4,8,1.6,2,1.6],
[3.5,0,5.5,5,5.8,5,3,0,3],
[1.5,315.6,0,338,6.6,345,9.8,359,6.6,360,-2.5,335,-4,338,-19.7,329,-21.3,324,-11.5,318,-5],
[2.5,318,-.8,340,3.3,347.6,6.6,359,5,359,-.8,338,-1.6,324,-4,318,-2.5],
[3.5,344,3.3,350,6.6,357.5,4,352.6,.8],
[1.5,341.5,18.9,346.4,19.7,350,11.5,344,11.5],
[1.5,268.6,11.5,283.5,9.8,305.7,6.6,318,-1.6,310.6,-7.4,291,-7.4,281,3.3,273.6,6.6],
[2.5,283.5,7.4,298,5,305.7,0,304.4,-5,293,-6.6,287,1.6],
[3.5,300.7,1.6,304.4,1.6,304.4,-3.3,300.7,-3.3],
[2.5,271,11.5,281,9,279.7,5,273.6,8.2],
[2.5,273.6,-5.7,279.7,-5,282,-14,277.3,-14.8],
[1.5,267,-41,276,-36.9,282,-39.3,282,-50.8,272,-44.3],
[1.5,320,50,328,50.8,323,39,315,41],
[1.5,192,-55.7,198,-54,201.5,-59,193,-59],
[1.5,145,57,151,58,153,52.5,147,53.3],
[1.5,155,50.8,165,52.5,164,47.5,157,46.7]
];
const contoursI=[
[-.75,128.4,13,144,19,168,24,180,33.6,201,40,207,37.7,207,28.7,218,21,215.6,18,201,18,187,13,234.7,14.8,253.7,9.5,234.7,7,196.5,5.7,170,1.6,162,-6.5,149,0,132,6.6],
[-1.25,128.4,10.7,139,14.8,151,15.6,168,10,201,6.6,225,9,242,10.7,244,9,199,5.7,168,1.6,158,-3.3,144,3.3],
[-1.75,131,11.5,146,13,160.7,11.5,177.4,7.4,194,6,172.6,2.5,158,-.8,144,5,135,8],
[-2.25,146,8.2,149,9.5,165.4,9,180,5.7,168,3.3,156,0,149,2.5],
[-2.75,149,5.7,153.5,8.2,165.4,7.4,173.8,5.7,163,3.3,156,1.3,151,2.5],
[-3.25,151,5,155.4,7,163,6.6,162,4,156.4,2.5],
[-.75,153.5,-10.7,160.7,-12.3,184.5,-16.4,215.6,-26,215.6,-31,187,-31.5,170,-24.6,156,-15.6],
[-1.25,158,-11.5,180,-14.8,196.5,-21.3,194,-26,184.5,-26,170,-19.7,159.5,-14],
[-1.25,180,25.7,186,26.6,186,21.3,179.8,21.3],
[-.75,0,8.2,8,7.4,9,1.6,2,0],
[-.75,318,-.8,342,5,354,8,359,1.6,349,-.8,328,-5],
[-1.25,345.6,2.5,350,3.3,351.6,1.6,347,1.3],
[-.75,283.6,6.6,292,1.6,305,.8,306,-4,296.7,-10,286,-5.7],
[-.75,273,9,280,8.2,279,4],
[-.75,43.7,-24.6,58,-24.6,55.6,-29.5,50,-30.3],
[.75,173.8,-3.3,187,1.6,206,4,258.5,5,275,2.5,279,-1.6,275,-4,246.6,-7.4,236,-14.8,234.7,-18,222.7,-19.7,211,-14.8,194,-10.7,180,-6.6],
[1.25,176,-4,189,0,206,2.5,258.5,3.3,274,1.6,277.6,-1.6,273,-3.3,245.4,-5.7,232,-13,228.7,-18,221.5,-17,211,-13,194,-9.5,181,-6.2],
[1.75,178.6,-4.6,190.5,-.3,206,1.6,246.6,2.5,265.7,-1.6,246.6,-3.3,234.7,-7.4,228.7,-14,221.5,-14.8,208.4,-11.5,191.7,-8.2],
[2.25,182,-5,193,-.8,208.4,1.3,241.8,.8,246.6,-1.6,232,-5,225,-11.5,218,-12.8,206,-10.7,191.7,-7.4],
[2.75,184.5,-4.6,194,-1.6,211,.3,237,-.3,244,-1.6,228.7,-5,222.7,-9,215.6,-11,206,-9.5,193,-7.4],
[3.25,188,-4.6,196.5,-2.4,213,-.8,222.7,-2.4,220,-7.4,214.4,-9.5,206,-8.2,194,-7],
[.75,51,-5.7,58.5,-5,61.6,-9,55.7,-11.8],
[.75,72.4,-15.6,78.3,-14,83,-19.7,79.5,-24,73.5,-21.3],
[.75,84.3,-9.8,91.5,3.3,101,0,110.5,-8,99.6,-15,88.9,-14],
[.75,114,20.5,125,29.5,142.8,32.8,141.6,26,129.6,20.5],
[.75,263,28.7,273,30,279,24.6,269,20.5],
[.75,159.5,-28,162,-27,162,-32,159.5,-32]
];

const panelMeans={cx:[375,1048.5,1722.7],cy:[279,655.5,1033]};
const SVGNS='http://www.w3.org/2000/svg';
function svgEl(tag,attrs,parent){
  const el=document.createElementNS(SVGNS,tag);
  for(const k in attrs){el.setAttribute(k,attrs[k]);}
  parent.appendChild(el);
  return el;
}
function robinsonAxes(cx,cy){
  const halfW=325.5,halfH=164;
  function interp(table,absLat){
    const t=Math.min(absLat,90)/5,i=Math.min(Math.floor(t),17),f=t-i;
    return table[i]+(table[i+1]-table[i])*f;
  }
  return function(lon,lat){
    const a=Math.abs(lat);
    const x=cx+(lon-180)/180*interp(robinsonLen,a)*halfW;
    const y=cy-(lat<0?-1:1)*interp(robinsonDepth,a)*halfH;
    return [x,y];
  };
}
function smoothClosed(pts){
  const n=pts.length;
  let d='M'+pts[0][0].toFixed(1)+' '+pts[0][1].toFixed(1);
  for(let i=0;i<n;i++){
    const p0=pts[(i-1+n)%n],p1=pts[i],p2=pts[(i+1)%n],p3=pts[(i+2)%n],k=1/7;
    d+='C'+(p1[0]+(p2[0]-p0[0])*k).toFixed(1)+' '+(p1[1]+(p2[1]-p0[1])*k).toFixed(1)+' '+(p2[0]-(p3[0]-p1[0])*k).toFixed(1)+' '+(p2[1]-(p3[1]-p1[1])*k).toFixed(1)+' '+p2[0].toFixed(1)+' '+p2[1].toFixed(1);
  }
  return d+'Z';
}
function coastPath(flat,closed,proj){
  const pts=[];
  for(let i=0;i<flat.length;i+=2){pts.push([((flat[i]%360)+360)%360,flat[i+1]]);}
  if(flat===antarcticaCoast){pts[pts.length-1][0]=360;}
  if(closed){pts.push(pts[0]);}
  let d='',prev=null;
  pts.forEach(function(p){
    if(prev&&Math.abs(p[0]-prev[0])>180){
      const up=prev[0]>p[0];
      const span=up?(360-prev[0])+p[0]:prev[0]+(360-p[0]);
      const frac=(up?360-prev[0]:prev[0])/span;
      const latX=prev[1]+(p[1]-prev[1])*frac;
      const a=proj(up?360:0,latX),b=proj(up?0:360,latX);
      d+='L'+a[0].toFixed(1)+' '+a[1].toFixed(1)+'M'+b[0].toFixed(1)+' '+b[1].toFixed(1);
    }
    const q=proj(p[0],p[1]);
    d+=(d===''?'M':'L')+q[0].toFixed(1)+' '+q[1].toFixed(1);
    prev=p;
  });
  return d;
}
function bandColor(value,bounds,colors){
  let i=0;
  while(i<bounds.length&&value>=bounds[i]){i++;}
  return colors[i];
}
function boundaryPath(proj){
  let d='';
  for(let lat=90;lat>=-90;lat-=5){const p=proj(360,lat);d+=(d===''?'M':'L')+p[0].toFixed(1)+' '+p[1].toFixed(1);}
  for(let lat=-90;lat<=90;lat+=5){const p=proj(0,lat);d+='L'+p[0].toFixed(1)+' '+p[1].toFixed(1);}
  return d+'Z';
}
const panelSpecs=[
 {id:'a',col:0,row:0,data:contoursA,bounds:boundsPrecip,colors:colorsPrecip},
 {id:'b',col:1,row:0,data:contoursB,bounds:boundsEvap,colors:colorsEvap},
 {id:'c',col:2,row:0,data:contoursC,bounds:boundsCirc,colors:colorsCirc},
 {id:'d',col:0,row:1,data:contoursD,bounds:boundsPrecip,colors:colorsPrecip},
 {id:'e',col:1,row:1,data:contoursE,bounds:boundsEvap,colors:colorsEvap},
 {id:'f',col:2,row:1,data:contoursF,bounds:boundsCirc,colors:colorsCirc},
 {id:'g',col:0,row:2,data:contoursG,bounds:boundsPrecip,colors:colorsPrecip},
 {id:'h',col:1,row:2,data:contoursH,bounds:boundsEvap,colors:colorsEvap},
 {id:'i',col:2,row:2,data:contoursI,bounds:boundsCirc,colors:colorsCirc}
];
const panelsRoot=document.getElementById('panels');
const defsRoot=document.getElementById('clip-defs');
panelSpecs.forEach(function(spec){
  const proj=robinsonAxes(panelMeans.cx[spec.col],panelMeans.cy[spec.row]);
  const bd=boundaryPath(proj);
  const clip=svgEl('clipPath',{id:'clip-'+spec.id},defsRoot);
  svgEl('path',{d:bd},clip);
  const g=svgEl('g',{'clip-path':'url(#clip-'+spec.id+')'},panelsRoot);
  
  
  spec.data.forEach(function(poly){
    const pts=[];
    for(let i=1;i<poly.length;i+=2){pts.push(proj(poly[i],poly[i+1]));}
    const el=svgEl('path',{d:smoothClosed(pts),fill:bandColor(poly[0],spec.bounds,spec.colors),stroke:'none'},g);
    
    
  });
  let cd='';
  coastlines.forEach(function(line){cd+=coastPath(line,true,proj);});
  cd+=coastPath(antarcticaCoast,false,proj);
  const coast=svgEl('path',{d:cd,fill:'none',stroke:'#000','stroke-width':2.2,'stroke-linejoin':'round','stroke-linecap':'round'},g);
  
  
  const frame=svgEl('path',{d:bd,fill:'none',stroke:'#000','stroke-width':2},panelsRoot);
  
  
});
const colorbarSpecs=[
 {name:'precipitation',zero:374.5,half:236.6,bounds:boundsPrecip,colors:colorsPrecip,ticks:ticksPrecip},
 {name:'evaporation',zero:1048.5,half:236.8,bounds:boundsEvap,colors:colorsEvap,ticks:ticksEvap},
 {name:'circulation',zero:1722.8,half:236.5,bounds:boundsCirc,colors:colorsCirc,ticks:ticksCirc}
];
const barsRoot=document.getElementById('colorbars');
colorbarSpecs.forEach(function(cb){
  const top=1228,bot=1261,mid=(top+bot)/2,tip=24.5;
  const vmax=cb.bounds[cb.bounds.length-1];
  const xOf=function(v){return cb.zero+v/vmax*cb.half;};
  const g=svgEl('g',{},barsRoot);
  
  
  const lo=svgEl('path',{d:'M'+xOf(-vmax)+' '+top+'L'+(xOf(-vmax)-tip)+' '+mid+'L'+xOf(-vmax)+' '+bot+'Z',fill:cb.colors[0]},g);
  
  
  const hi=svgEl('path',{d:'M'+xOf(vmax)+' '+top+'L'+(xOf(vmax)+tip)+' '+mid+'L'+xOf(vmax)+' '+bot+'Z',fill:cb.colors[cb.colors.length-1]},g);
  
  
  for(let i=0;i<cb.bounds.length-1;i++){
    const r=svgEl('rect',{x:xOf(cb.bounds[i]),y:top,width:xOf(cb.bounds[i+1])-xOf(cb.bounds[i])+.3,height:bot-top,fill:cb.colors[i+1]},g);
    
    
  }
  const outline=svgEl('path',{d:'M'+xOf(-vmax)+' '+top+'L'+xOf(vmax)+' '+top+'L'+(xOf(vmax)+tip)+' '+mid+'L'+xOf(vmax)+' '+bot+'L'+xOf(-vmax)+' '+bot+'L'+(xOf(-vmax)-tip)+' '+mid+'Z',fill:'none',stroke:'#1a1a1a','stroke-width':1.6},g);
  
  
  cb.ticks.forEach(function(t){
    const tk=svgEl('line',{x1:xOf(t),x2:xOf(t),y1:bot,y2:bot+7,stroke:'#000','stroke-width':1.3},g);
    
    
    const lb=svgEl('text',{x:xOf(t),y:1298,'font-size':28.5,'text-anchor':'middle'},g);
    lb.textContent=String(t).replace('-','\u2212');
    
    
  });
});
</script>
</body>
</html>
